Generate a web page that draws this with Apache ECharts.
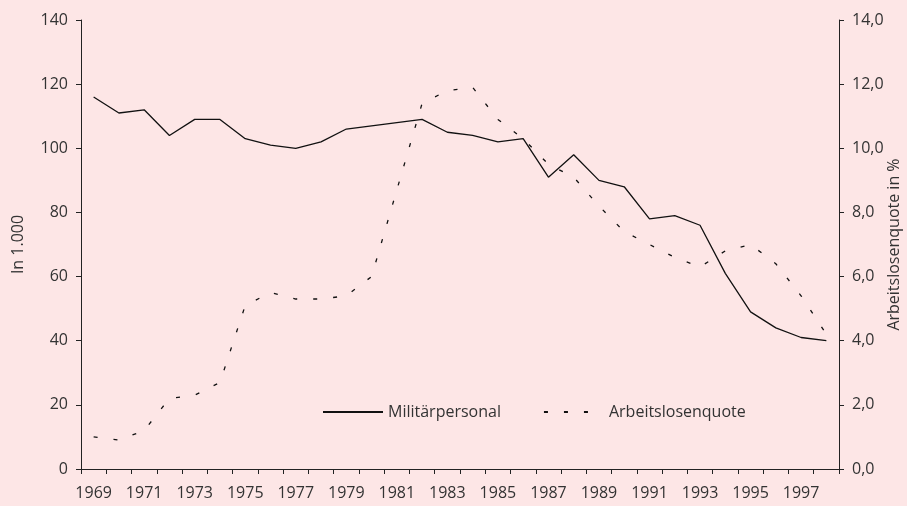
<!DOCTYPE html>
<html>
<head>
<meta charset="utf-8">
<script src="https://cdn.jsdelivr.net/npm/echarts@6/dist/echarts.min.js"></script>
<style>
html,body{margin:0;padding:0;background:#fde6e6;}
#chart{width:907px;height:506px;}
</style>
</head>
<body>
<div id="chart"></div>
<script>
const years = ['1969','1970','1971','1972','1973','1974','1975','1976','1977','1978','1979','1980','1981','1982','1983','1984','1985','1986','1987','1988','1989','1990','1991','1992','1993','1994','1995','1996','1997','1998'];
const militaerpersonal = [116,111,112,104,109,109,103,101,100,102,106,107,108,109,105,104,102,103,91,98,90,88,78,79,76,61,49,44,41,40];
const arbeitslosenquote = [1.0,0.9,1.2,2.2,2.3,2.7,5.1,5.5,5.3,5.3,5.4,6.0,8.7,11.4,11.8,11.9,10.9,10.3,9.5,9.1,8.2,7.4,7.0,6.6,6.3,6.8,7.0,6.4,5.4,4.2];
const leftTicks = [0,20,40,60,80,100,120,140];
const rightTicks = [0,2,4,6,8,10,12,14];

const FONT = 'Open Sans';
const TXT = '#333333';
const chart = echarts.init(document.getElementById('chart'));
chart.setOption({
  backgroundColor: '#fde6e6',
  animation: false,
  textStyle: { fontFamily: FONT },
  grid: { left: 81, right: 68, top: 20, bottom: 37, containLabel: false, outerBoundsMode: 'none' },
  legend: {
    left: 317, top: 399,
    itemWidth: 60, itemHeight: 14, itemGap: 42,
    itemStyle: { opacity: 0 },
    textStyle: { fontFamily: FONT, fontSize: 16, color: TXT },
    data: ['Militärpersonal', 'Arbeitslosenquote']
  },
  xAxis: {
    type: 'category',
    data: years,
    boundaryGap: true,
    axisLine: { lineStyle: { color: '#222', width: 1 } },
    axisTick: { show: true, length: 5, alignWithLabel: false, interval: 0, lineStyle: { color: '#222' } },
    axisLabel: { interval: 1, margin: 16, fontSize: 16, color: TXT, fontFamily: FONT },
    splitLine: { show: false }
  },
  yAxis: [
    {
      type: 'value', min: leftTicks[0], max: leftTicks[leftTicks.length-1], interval: 20,
      name: 'In 1.000', nameLocation: 'middle', nameGap: 55, nameMoveOverlap: false,
      nameTextStyle: { fontSize: 16, color: TXT, fontFamily: FONT },
      axisLine: { show: true, lineStyle: { color: '#222' } },
      axisTick: { show: true, length: 5, lineStyle: { color: '#222' } },
      axisLabel: { margin: 13, fontSize: 16, color: TXT, fontFamily: FONT },
      splitLine: { show: false }
    },
    {
      type: 'value', min: rightTicks[0], max: rightTicks[rightTicks.length-1], interval: 2,
      position: 'right',
      name: 'Arbeitslosenquote in %', nameLocation: 'middle', nameGap: 47, nameMoveOverlap: false,
      nameTextStyle: { fontSize: 16, color: TXT, fontFamily: FONT },
      axisLine: { show: true, lineStyle: { color: '#222' } },
      axisTick: { show: true, length: 5, lineStyle: { color: '#222' } },
      axisLabel: { margin: 13, fontSize: 16, color: TXT, fontFamily: FONT,
        formatter: v => v.toFixed(1).replace('.', ',') },
      splitLine: { show: false }
    }
  ],
  series: [
    {
      name: 'Militärpersonal', type: 'line', yAxisIndex: 0,
      data: militaerpersonal, symbol: 'none',
      lineStyle: { color: '#111', width: 1.3 },
      itemStyle: { color: '#111' }
    },
    {
      name: 'Arbeitslosenquote', type: 'line', yAxisIndex: 1,
      data: arbeitslosenquote, symbol: 'none',
      lineStyle: { color: '#111', width: 1.3, type: [4, 16] },
      itemStyle: { color: '#111' }
    }
  ]
});
</script>
</body>
</html>
